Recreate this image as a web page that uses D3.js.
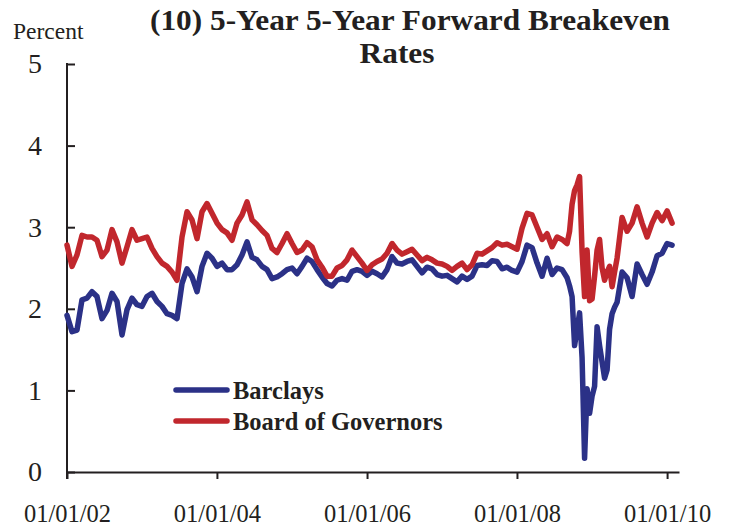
<!DOCTYPE html>
<html><head><meta charset="utf-8">
<script src="https://cdn.jsdelivr.net/npm/d3@7"></script>
<style>
body{margin:0;background:#fff}
svg{display:block}
text{font-family:"Liberation Serif","Times New Roman",serif;fill:#231f20}
</style>
</head><body>
<svg id="c" width="730" height="527"></svg>
<script>
// ---------- data ----------
const titleLines = ["(10) 5-Year 5-Year Forward Breakeven", "Rates"];
const yLabel = "Percent";
const seriesNames = ["Barclays", "Board of Governors"];
const seriesColors = ["#2b3187", "#c1272d"];
const xTickDates = ["2002-01-01", "2004-01-01", "2006-01-01", "2008-01-01", "2010-01-01"];
const yTicks = [0, 1, 2, 3, 4, 5];

// observations sampled every ~24.35 days starting 2002-01-01
const startDate = "2002-01-01";
const stepDays = 24.35;

const barclays = [
  1.92, 1.72, 1.74, 2.11, 2.13, 2.21, 2.15, 1.88, 1.98, 2.19,
  2.09, 1.68, 1.99, 2.13, 2.05, 2.03, 2.15, 2.19, 2.09, 2.03,
  1.94, 1.92, 1.88, 2.31, 2.49, 2.39, 2.21, 2.52, 2.68, 2.62,
  2.52, 2.56, 2.48, 2.48, 2.54, 2.66, 2.82, 2.63, 2.60, 2.52,
  2.48, 2.37, 2.39, 2.43, 2.48, 2.50, 2.43, 2.52, 2.62, 2.58,
  2.48, 2.39, 2.31, 2.28, 2.35, 2.37, 2.35, 2.46, 2.48, 2.46,
  2.41, 2.46, 2.43, 2.39, 2.48, 2.64, 2.56, 2.55, 2.58, 2.60,
  2.52, 2.44, 2.51, 2.49, 2.42, 2.40, 2.41, 2.37, 2.33, 2.40,
  2.36, 2.40, 2.53, 2.54, 2.53, 2.59, 2.58, 2.49, 2.51, 2.47,
  2.45, 2.58, 2.78, 2.75, 2.56, 2.40, 2.62, 2.42, 2.50, 2.48,
  2.38, 2.15, 1.75, 1.40, 1.02, 0.93, 1.78, 1.35, 1.25, 1.94,
  2.08, 2.45, 2.38, 2.15, 2.55, 2.42, 2.30, 2.45, 2.65, 2.68,
  2.80, 2.78
];
const board = [
  2.78, 2.52, 2.66, 2.90, 2.88, 2.88, 2.84, 2.64, 2.72, 2.97,
  2.82, 2.56, 2.76, 2.97, 2.84, 2.86, 2.88, 2.74, 2.64, 2.56,
  2.52, 2.45, 2.35, 2.88, 3.19, 3.09, 2.86, 3.19, 3.29, 3.17,
  3.05, 2.97, 2.93, 2.84, 3.05, 3.15, 3.31, 3.09, 3.03, 2.96,
  2.90, 2.74, 2.69, 2.80, 2.92, 2.80, 2.69, 2.72, 2.81, 2.76,
  2.60, 2.51, 2.40, 2.40, 2.50, 2.53, 2.60, 2.72, 2.64, 2.56,
  2.47, 2.54, 2.58, 2.61, 2.68, 2.80, 2.72, 2.67, 2.70, 2.73,
  2.66, 2.59, 2.63, 2.60, 2.56, 2.55, 2.52, 2.47, 2.52, 2.56,
  2.48, 2.54, 2.68, 2.67, 2.71, 2.75, 2.81, 2.78, 2.79, 2.76,
  2.73, 2.99, 3.17, 3.15, 3.00, 2.85, 2.92, 2.76, 2.88, 2.85,
  2.80, 3.28, 3.52, 2.70, 2.72, 2.12, 2.72, 2.50, 2.45, 2.27,
  2.62, 3.12, 2.95, 3.05, 3.25, 3.05, 2.88, 3.05, 3.18, 3.08,
  3.20, 3.05
];
// extra half-step observations during the late-2008 turmoil (from step 100.5)
const crashStartStep = 100.5;
const barclaysCrash = [2.28, 1.55, 1.95, 0.17, 0.72, 1.05, 1.55, 1.15, 1.75, 2.02];
const boardCrash    = [2.95, 3.45, 3.62, 2.15, 2.10, 2.40, 2.85, 2.35, 2.52, 2.45];

// ---------- chart ----------
const svg = d3.select("#c");
const parse = d3.utcParse("%Y-%m-%d");
const t0 = parse(startDate).getTime();
const stepMs = stepDays * 864e5;
const FONT = "'Liberation Serif','Times New Roman',serif";
const INK = "#231f20";

function build(main, extra) {
  const pts = main.map((v, i) => ({ s: i, v }));
  extra.forEach((v, j) => pts.push({ s: crashStartStep + j, v }));
  pts.sort((a, b) => a.s - b.s);
  return pts.map(p => ({ date: new Date(t0 + p.s * stepMs), value: p.v }));
}
const series = [build(barclays, barclaysCrash), build(board, boardCrash)];

const x = d3.scaleUtc()
  .domain([parse("2002-01-01"), parse("2010-02-28")])
  .range([67, 679]);
const y = d3.scaleLinear().domain([0, 5]).range([472, 64]);

// title (slightly wide type, as in the original)
svg.append("text").attr("transform", "translate(410,29.5) scale(1.08,1)")
  .attr("text-anchor", "middle").attr("font-weight", "bold").attr("font-size", 29)
  .text(titleLines[0]);
svg.append("text").attr("transform", "translate(397,63) scale(1.08,1)")
  .attr("text-anchor", "middle").attr("font-weight", "bold").attr("font-size", 29)
  .text(titleLines[1]);

// y label
svg.append("text").attr("x", 13).attr("y", 39).attr("font-size", 23.5).text(yLabel);

// y axis
const gy = svg.append("g").attr("transform", "translate(67,0)")
  .call(d3.axisLeft(y).tickValues(yTicks).tickFormat(d3.format("d"))
    .tickSizeInner(-8).tickSizeOuter(0).tickPadding(25));
gy.select(".domain").remove();
gy.selectAll(".tick line").attr("stroke", INK).attr("stroke-width", 2);
gy.selectAll(".tick text").attr("font-family", FONT).attr("font-size", 28).attr("fill", INK);
gy.append("line").attr("x1", 0).attr("x2", 0).attr("y1", y(5) - 1).attr("y2", y(0) + 7)
  .attr("stroke", INK).attr("stroke-width", 2);

// x axis
const gx = svg.append("g").attr("transform", `translate(0,${y(0)})`)
  .call(d3.axisBottom(x).tickValues(xTickDates.map(parse))
    .tickFormat(d3.utcFormat("%m/%d/%y"))
    .tickSizeInner(7).tickSizeOuter(0).tickPadding(26));
gx.select(".domain").attr("stroke", INK).attr("stroke-width", 2);
gx.selectAll(".tick line").attr("stroke", INK).attr("stroke-width", 2);
gx.selectAll(".tick text").attr("font-family", FONT).attr("font-size", 24.5).attr("fill", INK);

// lines
const line = d3.line().x(d => x(d.date)).y(d => y(d.value));
series.forEach((s, k) => {
  svg.append("path").datum(s).attr("d", line)
    .attr("fill", "none").attr("stroke", seriesColors[k])
    .attr("stroke-width", 5.5).attr("stroke-linejoin", "round").attr("stroke-linecap", "round");
});

// legend
const legY = [390, 421];
seriesNames.forEach((n, k) => {
  svg.append("line").attr("x1", 176).attr("x2", 227).attr("y1", legY[k]).attr("y2", legY[k])
    .attr("stroke", seriesColors[k]).attr("stroke-width", 5.5).attr("stroke-linecap", "round");
  svg.append("text").attr("x", 233).attr("y", legY[k] + 9)
    .attr("font-weight", "bold").attr("font-size", 24.5).text(n);
});
</script>
</body></html>
